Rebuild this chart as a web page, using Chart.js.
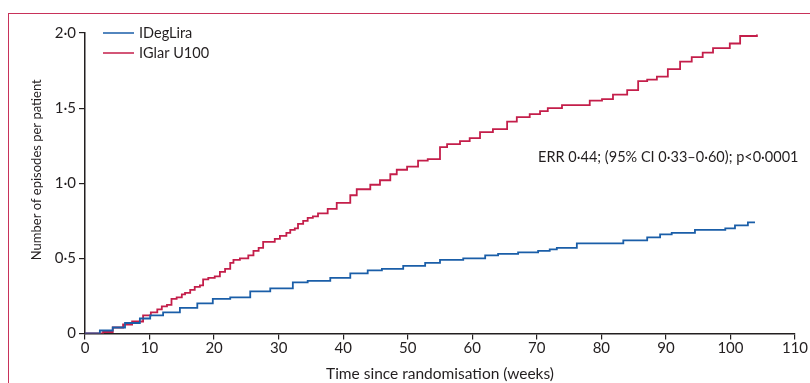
<!DOCTYPE html>
<html>
<head>
<meta charset="utf-8">
<script src="https://cdn.jsdelivr.net/npm/chart.js@4/dist/chart.umd.min.js"></script>
<style>
  html, body { margin:0; padding:0; width:810px; height:383px; overflow:hidden; background:#fff; }
  #frame { position:absolute; left:8px; top:13px; width:900px; height:500px; border:1.5px solid #c8325a; box-sizing:border-box; }
  #wrap { position:absolute; left:0; top:0; width:810px; height:383px; }
</style>
</head>
<body>
<div id="frame"></div>
<div id="wrap"><canvas id="c" width="810" height="383"></canvas></div>
<script>
const seriesNames = ['IDegLira', 'IGlar U100'];
const weeksIDegLira = [0, 2.3, 4.3, 6.2, 8.5, 10.1, 12.1, 14.7, 17.4, 19.8, 22.5, 25.6, 28.7, 32.2, 34.5, 38.0, 41.1, 43.8, 46.0, 49.3, 52.7, 55.0, 58.6, 62.0, 64.0, 67.1, 70.2, 72.0, 73.1, 76.2, 80.1, 83.4, 87.1, 89.1, 90.9, 94.5, 99.2, 100.7, 102.7, 103.8];
const valuesIDegLira = [0, 0.02, 0.04, 0.07, 0.10, 0.12, 0.14, 0.17, 0.20, 0.23, 0.24, 0.28, 0.30, 0.34, 0.35, 0.37, 0.40, 0.42, 0.43, 0.45, 0.47, 0.49, 0.50, 0.52, 0.53, 0.54, 0.55, 0.56, 0.57, 0.60, 0.60, 0.62, 0.64, 0.66, 0.67, 0.69, 0.70, 0.72, 0.74, 0.74];
const weeksIGlar = [0, 2.8, 4.3, 5.9, 7.3, 9.0, 10.2, 11.2, 11.9, 12.7, 13.4, 14.2, 15.0, 15.5, 16.3, 17.0, 17.8, 18.3, 19.1, 20.1, 20.9, 21.7, 22.5, 23.0, 24.0, 25.3, 26.1, 26.9, 27.6, 28.7, 29.4, 30.2, 31.2, 31.8, 32.5, 33.0, 33.8, 34.5, 35.3, 36.1, 36.9, 37.6, 39.0, 41.1, 42.1, 44.2, 45.7, 47.3, 48.3, 49.9, 51.6, 53.1, 55.0, 56.1, 58.1, 59.6, 61.2, 63.2, 65.4, 66.9, 68.9, 70.5, 71.7, 73.9, 76.2, 78.2, 80.1, 81.8, 84.0, 85.7, 87.1, 88.6, 90.3, 92.2, 94.0, 95.7, 97.3, 99.9, 101.5, 104.1];
const valuesIGlar = [0, 0.01, 0.04, 0.06, 0.08, 0.12, 0.14, 0.16, 0.18, 0.19, 0.23, 0.24, 0.26, 0.27, 0.29, 0.31, 0.32, 0.36, 0.37, 0.38, 0.41, 0.43, 0.47, 0.49, 0.50, 0.52, 0.55, 0.57, 0.61, 0.61, 0.63, 0.65, 0.67, 0.69, 0.70, 0.73, 0.75, 0.77, 0.78, 0.80, 0.80, 0.83, 0.87, 0.92, 0.96, 0.99, 1.02, 1.06, 1.09, 1.11, 1.15, 1.16, 1.24, 1.26, 1.28, 1.30, 1.34, 1.36, 1.41, 1.44, 1.46, 1.48, 1.50, 1.52, 1.52, 1.55, 1.56, 1.59, 1.62, 1.68, 1.69, 1.71, 1.76, 1.81, 1.84, 1.87, 1.90, 1.93, 1.98, 1.99];
const xTicks = [0, 10, 20, 30, 40, 50, 60, 70, 80, 90, 100, 110];
const yTicks = [0, 0.5, 1.0, 1.5, 2.0];
const annotationText = 'ERR 0·44; (95% CI 0·33–0·60); p<0·0001';
const xTitle = 'Time since randomisation (weeks)';
const yTitle = 'Number of episodes per patient';

const colors = ['#1a5ea8', '#c41e4a'];
const FONT = 'Lato, "Open Sans", sans-serif';
const TXT = '#231f20';

function pts(xs, ys) { return xs.map((x, i) => ({ x: x, y: ys[i] })); }

const overlay = {
  id: 'overlay',
  afterDraw(chart) {
    const ctx = chart.ctx, ca = chart.chartArea;
    const xs = chart.scales.x, ys = chart.scales.y;
    ctx.save();
    ctx.font = '14.5px ' + FONT;
    ctx.fillStyle = TXT;
    ctx.textBaseline = 'middle';
    chart.data.datasets.forEach((ds, i) => {
      const y = ca.top + i * 20;
      ctx.strokeStyle = ds.borderColor;
      ctx.lineWidth = 1.5;
      ctx.beginPath();
      ctx.moveTo(ca.left + 18, y);
      ctx.lineTo(ca.left + 49, y);
      ctx.stroke();
      ctx.fillText(ds.label, ca.left + 54, y);
    });
    ctx.textAlign = 'left';
    ctx.font = '14.5px ' + FONT;
    ctx.fillText(annotationText, xs.getPixelForValue(70.2), ys.getPixelForValue(1.175));
    // y axis title
    ctx.font = '13px ' + FONT;
    ctx.translate(ca.left - 48, ys.getPixelForValue(1.09));
    ctx.rotate(-Math.PI / 2);
    ctx.textAlign = 'center';
    ctx.fillText(yTitle, 0, 0);
    ctx.restore();
  }
};

new Chart(document.getElementById('c'), {
  type: 'line',
  data: {
    datasets: [
      { label: seriesNames[0], data: pts(weeksIDegLira, valuesIDegLira), borderColor: colors[0], borderWidth: 1.8, pointRadius: 0, stepped: true, fill: false },
      { label: seriesNames[1], data: pts(weeksIGlar, valuesIGlar), borderColor: colors[1], borderWidth: 1.8, pointRadius: 0, stepped: true, fill: false }
    ]
  },
  options: {
    responsive: false,
    animation: false,
    layout: { padding: { left: 0, top: 33, right: 15, bottom: 0 } },
    plugins: { legend: { display: false }, tooltip: { enabled: false } },
    scales: {
      x: {
        type: 'linear', min: 0, max: 110,
        afterBuildTicks: s => { s.ticks = xTicks.map(v => ({ value: v })); },
        afterFit: s => { s.height = 49.5; },
        ticks: { color: TXT, font: { family: FONT, size: 15 }, padding: 0, maxRotation: 0 },
        grid: { display: true, drawOnChartArea: false, drawTicks: true, tickLength: 6, color: TXT, lineWidth: 1.2 },
        border: { display: true, color: TXT, width: 1.5 },
        title: { display: true, text: xTitle, color: TXT, font: { family: FONT, size: 15.5 }, padding: { top: 0, bottom: 0 } }
      },
      y: {
        min: 0, max: 2,
        afterBuildTicks: s => { s.ticks = yTicks.map(v => ({ value: v })); },
        afterFit: s => { s.width = 85; },
        ticks: { color: TXT, font: { family: FONT, size: 15 }, padding: 3,
          callback: v => v === 0 ? '0' : v.toFixed(1).replace('.', '·') },
        grid: { display: true, drawOnChartArea: false, drawTicks: true, tickLength: 6, color: TXT, lineWidth: 1.2 },
        border: { display: true, color: TXT, width: 1.5 },
        title: { display: false }
      }
    }
  },
  plugins: [overlay]
});
</script>
</body>
</html>
